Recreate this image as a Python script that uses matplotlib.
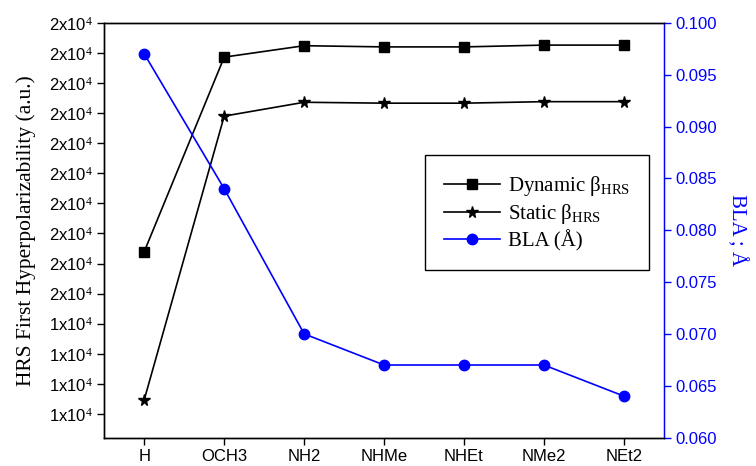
import matplotlib
matplotlib.use("Agg")
import matplotlib.pyplot as plt
from matplotlib.ticker import FixedLocator, FixedFormatter

plt.rcParams["font.family"] = "Liberation Sans"
plt.rcParams["mathtext.fontset"] = "custom"
plt.rcParams["mathtext.rm"] = "Liberation Serif"
plt.rcParams["mathtext.it"] = "Liberation Serif"

# data
groups = ["H", "OCH3", "NH2", "NHMe", "NHEt", "NMe2", "NEt2"]
dynamic_beta = [15700, 18930, 19120, 19100, 19100, 19130, 19130]
static_beta = [13240, 17950, 18180, 18165, 18165, 18190, 18190]
bla = [0.097, 0.084, 0.070, 0.067, 0.067, 0.067, 0.064]

left_ticks = [13000 + 500 * i for i in range(14)]
left_labels = ["1x10$^{4}$"] * 4 + ["2x10$^{4}$"] * 10
right_ticks = [0.060, 0.065, 0.070, 0.075, 0.080, 0.085, 0.090, 0.095, 0.100]

fig = plt.figure(figsize=(7.56, 4.66), dpi=100)
ax = fig.add_axes([0.138, 0.061, 0.740, 0.890])
x = list(range(len(groups)))

l1, = ax.plot(x, dynamic_beta, color="black", lw=1.2, marker="s", ms=6.5,
              label=r"Dynamic $\mathregular{\beta_{HRS}}$")
l2, = ax.plot(x, static_beta, color="black", lw=1.2, marker="*", ms=8.5,
              label=r"Static $\mathregular{\beta_{HRS}}$")
ax.set_xlim(-0.5, 6.5)
ax.set_ylim(12608, 19500)
ax.set_xticks(x)
ax.set_xticklabels(groups)
ax.yaxis.set_major_locator(FixedLocator(left_ticks))
ax.yaxis.set_major_formatter(FixedFormatter(left_labels))
ax.tick_params(axis="both", direction="out", length=5, width=1, labelsize=12)
ax.set_ylabel("HRS First Hyperpolarizability (a.u.)", family="Liberation Serif",
              fontsize=15.5, labelpad=9)

ax2 = ax.twinx()
l3, = ax2.plot(x, bla, color="blue", lw=1.2, marker="o", ms=7.5, label="BLA (Å)")
ax2.set_ylim(0.060, 0.100)
ax2.set_yticks(right_ticks)
ax2.set_yticklabels(["%.3f" % t for t in right_ticks])
ax2.tick_params(axis="y", colors="blue", direction="out", length=5, width=1, labelsize=12)
ax2.spines["right"].set_color("blue")
ax2.set_ylabel("BLA ; Å", color="blue", family="Liberation Serif", fontsize=15,
               rotation=270, labelpad=22)

for a in (ax, ax2):
    for s in ("left", "bottom", "top"):
        a.spines[s].set_linewidth(1)
ax2.spines["right"].set_linewidth(1)

leg = ax2.legend(handles=[l1, l2, l3], loc="upper left", bbox_to_anchor=(0.573, 0.681),
                 frameon=True, fancybox=False, edgecolor="black", framealpha=1,
                 prop={"family": "Liberation Serif", "size": 15},
                 handlelength=2.7, borderpad=0.9, labelspacing=0.2, handletextpad=0.4,
                 borderaxespad=0)
leg.get_frame().set_linewidth(1)

fig.savefig("out.png", dpi=100)
